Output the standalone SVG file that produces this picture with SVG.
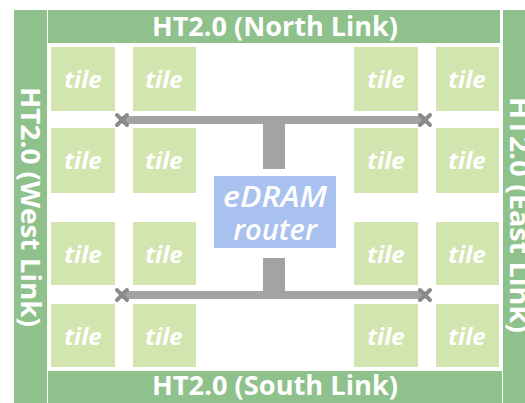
<svg xmlns="http://www.w3.org/2000/svg" width="525" height="403" viewBox="0 0 525 403">
  <style>
    .bar { fill: #8fc18c; }
    .tile rect { fill: #d2e5ae; }
    .tile text { fill: #ffffff; font-family: "Open Sans", "Liberation Sans", sans-serif; font-weight: 700; font-style: italic; font-size: 24px; text-anchor: middle; }
    .link { fill: #ffffff; font-family: "Open Sans", "Liberation Sans", sans-serif; font-weight: 700; font-size: 26px; text-anchor: middle; }
    .bus { stroke: #a3a3a3; stroke-width: 8; fill: none; }
    .stub { fill: #a3a3a3; }
    .cross { stroke: #8a8a8a; stroke-width: 4; stroke-linecap: round; }
    .router rect { fill: #a9c1ee; }
    .router text { fill: #ffffff; font-family: "Open Sans", "Liberation Sans", sans-serif; font-weight: 600; font-style: italic; font-size: 29px; text-anchor: middle; }
  </style>

  <rect width="525" height="403" fill="#ffffff"/>

  <!-- HyperTransport links around the die -->
  <g id="north-link">
    <rect class="bar" x="48" y="10" width="452" height="33"/>
    <text class="link" x="275" y="36" textLength="246" lengthAdjust="spacingAndGlyphs">HT2.0 (North Link)</text>
  </g>
  <g id="south-link">
    <rect class="bar" x="48" y="371" width="454" height="32"/>
    <text class="link" x="275" y="395" textLength="246" lengthAdjust="spacingAndGlyphs">HT2.0 (South Link)</text>
  </g>
  <g id="west-link">
    <rect class="bar" x="14" y="10" width="33" height="393"/>
    <text class="link" transform="translate(21,207) rotate(90)" x="0" y="0" textLength="240" lengthAdjust="spacingAndGlyphs">HT2.0 (West Link)</text>
  </g>
  <g id="east-link">
    <rect class="bar" x="503" y="10" width="22" height="393"/>
    <text class="link" transform="translate(510,215) rotate(90)" x="0" y="0" textLength="236" lengthAdjust="spacingAndGlyphs">HT2.0 (East Link)</text>
  </g>

  <!-- tiles -->
  <g id="tile-1-1" class="tile"><rect x="51" y="47" width="64" height="64"/><text x="83" y="88">tile</text></g>
  <g id="tile-1-2" class="tile"><rect x="133" y="47" width="63" height="64"/><text x="164" y="88">tile</text></g>
  <g id="tile-1-3" class="tile"><rect x="354" y="47" width="64" height="64"/><text x="386" y="88">tile</text></g>
  <g id="tile-1-4" class="tile"><rect x="436" y="47" width="63" height="64"/><text x="467" y="88">tile</text></g>

  <g id="tile-2-1" class="tile"><rect x="51" y="128" width="64" height="65"/><text x="83" y="169">tile</text></g>
  <g id="tile-2-2" class="tile"><rect x="133" y="128" width="63" height="65"/><text x="164" y="169">tile</text></g>
  <g id="tile-2-3" class="tile"><rect x="354" y="128" width="64" height="65"/><text x="386" y="169">tile</text></g>
  <g id="tile-2-4" class="tile"><rect x="436" y="128" width="63" height="65"/><text x="467" y="169">tile</text></g>

  <g id="tile-3-1" class="tile"><rect x="51" y="222" width="64" height="63"/><text x="83" y="263">tile</text></g>
  <g id="tile-3-2" class="tile"><rect x="133" y="222" width="63" height="63"/><text x="164" y="263">tile</text></g>
  <g id="tile-3-3" class="tile"><rect x="354" y="222" width="64" height="63"/><text x="386" y="263">tile</text></g>
  <g id="tile-3-4" class="tile"><rect x="436" y="222" width="63" height="63"/><text x="467" y="263">tile</text></g>

  <g id="tile-4-1" class="tile"><rect x="51" y="304" width="64" height="63"/><text x="83" y="345">tile</text></g>
  <g id="tile-4-2" class="tile"><rect x="133" y="304" width="63" height="63"/><text x="164" y="345">tile</text></g>
  <g id="tile-4-3" class="tile"><rect x="354" y="304" width="64" height="63"/><text x="386" y="345">tile</text></g>
  <g id="tile-4-4" class="tile"><rect x="436" y="304" width="63" height="63"/><text x="467" y="345">tile</text></g>

  <!-- central router -->
  <g id="router" class="router">
    <rect x="214" y="176" width="122" height="72"/>
    <text x="275" y="207" textLength="104" lengthAdjust="spacingAndGlyphs">eDRAM</text>
    <text x="275" y="240">router</text>
  </g>

  <!-- buses from the router to the tile groups -->
  <g id="connectors">
    <rect class="stub" x="263" y="116" width="22" height="53"/>
    <line class="bus" x1="122" y1="120" x2="425" y2="120"/>
    <rect class="stub" x="263" y="258" width="22" height="41"/>
    <line class="bus" x1="122" y1="295" x2="425" y2="295"/>
    <g class="cross">
      <path d="M117 115 L127 125 M117 125 L127 115"/>
      <path d="M420 115 L430 125 M420 125 L430 115"/>
      <path d="M117 290 L127 300 M117 300 L127 290"/>
      <path d="M420 290 L430 300 M420 300 L430 290"/>
    </g>
  </g>
</svg>
